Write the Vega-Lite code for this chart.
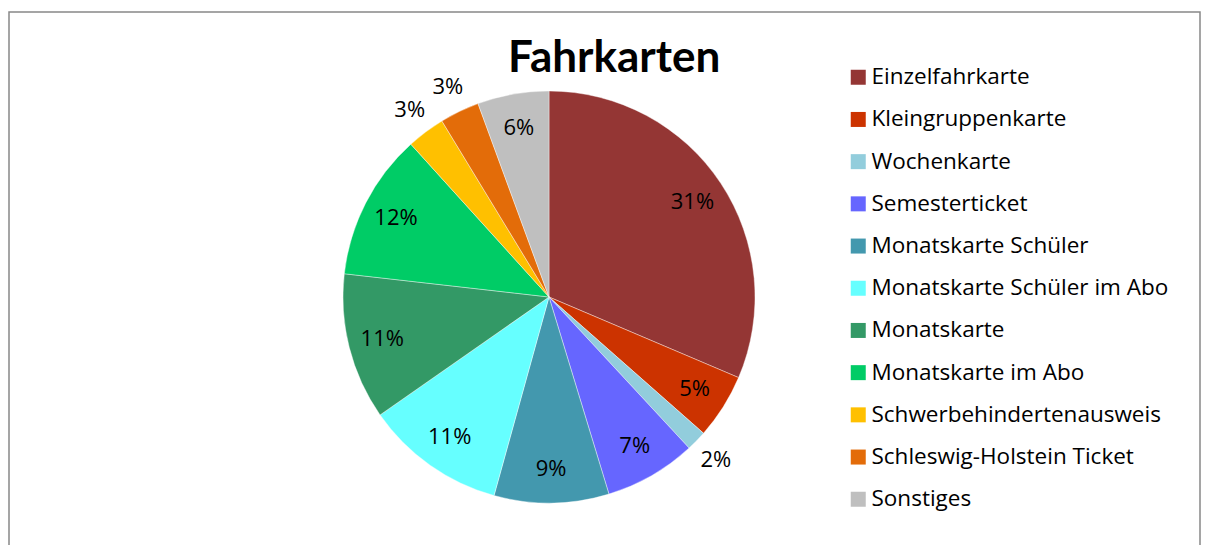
{
  "$schema": "https://vega.github.io/schema/vega-lite/v6.json",
  "autosize": {"type": "none"},
  "padding": {"left": 9, "top": 12, "right": 8, "bottom": 0},
  "width": 1191,
  "height": 540,
  "background": "white",
  "view": {"stroke": "#888888", "strokeWidth": 1.5, "fill": "white"},
  "config": {
    "view": {"stroke": "#888888", "strokeWidth": 1.5},
    "font": "Open Sans"
  },
  "title": {
    "text": "Fahrkarten",
    "orient": "top",
    "frame": "group",
    "anchor": "start",
    "dx": 499,
    "dy": 39,
    "baseline": "alphabetic",
    "offset": -65,
    "font": "Lato",
    "fontSize": 44,
    "fontWeight": "bold",
    "color": "#000000"
  },
  "data": {
    "values": [
      {"idx": 1, "name": "Einzelfahrkarte", "value": 31.4, "label": "31%"},
      {"idx": 2, "name": "Kleingruppenkarte", "value": 5.1, "label": "5%"},
      {"idx": 3, "name": "Wochenkarte", "value": 1.6, "label": "2%"},
      {"idx": 4, "name": "Semesterticket", "value": 7.2, "label": "7%"},
      {"idx": 5, "name": "Monatskarte Schüler", "value": 9.0, "label": "9%"},
      {"idx": 6, "name": "Monatskarte Schüler im Abo", "value": 11.0, "label": "11%"},
      {"idx": 7, "name": "Monatskarte", "value": 11.5, "label": "11%"},
      {"idx": 8, "name": "Monatskarte im Abo", "value": 11.5, "label": "12%"},
      {"idx": 9, "name": "Schwerbehindertenausweis", "value": 3.0, "label": "3%"},
      {"idx": 10, "name": "Schleswig-Holstein Ticket", "value": 3.1, "label": "3%"},
      {"idx": 11, "name": "Sonstiges", "value": 5.6, "label": "6%"}
    ]
  },
  "encoding": {
    "theta": {"field": "value", "type": "quantitative", "stack": true},
    "order": {"field": "idx", "type": "quantitative"},
    "color": {
      "field": "name",
      "type": "nominal",
      "sort": ["Einzelfahrkarte", "Kleingruppenkarte", "Wochenkarte", "Semesterticket", "Monatskarte Schüler", "Monatskarte Schüler im Abo", "Monatskarte", "Monatskarte im Abo", "Schwerbehindertenausweis", "Schleswig-Holstein Ticket", "Sonstiges"],
      "scale": {
        "domain": ["Einzelfahrkarte", "Kleingruppenkarte", "Wochenkarte", "Semesterticket", "Monatskarte Schüler", "Monatskarte Schüler im Abo", "Monatskarte", "Monatskarte im Abo", "Schwerbehindertenausweis", "Schleswig-Holstein Ticket", "Sonstiges"],
        "range": ["#943634", "#CC3300", "#92CDDC", "#6666FF", "#4398AE", "#66FFFF", "#339966", "#00CC66", "#FFC000", "#E36C09", "#BFBFBF"]
      },
      "legend": {
        "title": null,
        "orient": "none",
        "legendX": 838,
        "legendY": 54,
        "direction": "vertical",
        "symbolType": "square",
        "symbolSize": 225,
        "symbolStrokeWidth": 0,
        "symbolOpacity": 1,
        "labelFont": "Open Sans",
        "labelFontSize": 22.5,
        "labelColor": "#000000",
        "labelOffset": 2,
        "labelLimit": 400,
        "rowPadding": 19.2,
        "padding": 0
      }
    }
  },
  "layer": [
    {
      "mark": {"type": "arc", "x": 540, "y": 285, "radius": 206, "stroke": "white", "strokeWidth": 0.4}
    },
    {
      "mark": {"type": "text", "x": 540, "y": 285, "radius": 172, "font": "Open Sans", "fontSize": 22, "color": "#000000"},
      "encoding": {
        "text": {"condition": {"test": "datum.value < 4", "value": ""}, "field": "label"},
        "color": {"value": "#000000"}
      }
    },
    {
      "mark": {"type": "text", "x": 540, "y": 285, "radius": 233, "font": "Open Sans", "fontSize": 22, "color": "#000000"},
      "encoding": {
        "text": {"condition": {"test": "datum.value >= 4", "value": ""}, "field": "label"},
        "color": {"value": "#000000"}
      }
    }
  ]
}
